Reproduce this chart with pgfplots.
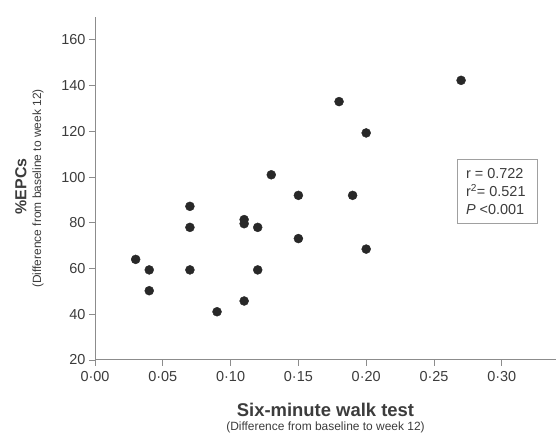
\documentclass[border=0pt]{standalone}
\usepackage{fontspec}
\setmainfont{Liberation Sans}
\usepackage{pgfplots}
\pgfplotsset{compat=1.18}
\definecolor{dotgray}{RGB}{40,40,40}
\definecolor{axgray}{RGB}{140,140,140}
\definecolor{txtgray}{RGB}{60,60,60}
\definecolor{boxgray}{RGB}{160,160,160}

\begin{document}
\begin{tikzpicture}[x=1bp,y=1bp]
\useasboundingbox (-95,-75) rectangle (461,360);
\begin{axis}[
    at={(0,0)}, anchor=south west,
    scale only axis,
    width=461bp, height=343bp,
    xmin=0, xmax=0.34,
    ymin=20, ymax=170,
    axis x line*=bottom,
    axis y line*=left,
    axis line style={color=axgray, line width=1pt, -},
    xtick={0,0.05,0.10,0.15,0.20,0.25,0.30},
    xticklabels={0·00,0·05,0·10,0·15,0·20,0·25,0·30},
    ytick={20,40,...,160},
    /pgf/number format/assume math mode=true,
    yticklabel={\pgfmathprintnumber{\tick}},
    tick align=outside,
    major tick length=6bp,
    tick style={color=axgray, line width=0.8pt},
    tick label style={font=\fontsize{14.5}{16}\selectfont, color=txtgray},
    xticklabel style={yshift=-2bp},
    clip=false,
]
\addplot[only marks, mark=*, mark size=4.5bp, color=dotgray] coordinates {
    (0.03, 64)
    (0.04, 59.4)
    (0.04, 50.3)
    (0.07, 87.2)
    (0.07, 78)
    (0.07, 59.4)
    (0.09, 41.1)
    (0.11, 81.4)
    (0.11, 79.6)
    (0.11, 45.8)
    (0.12, 78)
    (0.12, 59.4)
    (0.13, 101)
    (0.15, 92)
    (0.15, 73.1)
    (0.18, 133)
    (0.19, 92)
    (0.20, 119.3)
    (0.20, 68.5)
    (0.27, 142.3)
};
% statistics box
\draw[boxgray, line width=1pt, fill=white]
  (axis cs:0.267,107.8) rectangle (axis cs:0.326,79.8);
\node[align=left, anchor=west, inner sep=0pt, text=txtgray,
      font=\fontsize{14.5}{18}\selectfont]
  at (axis cs:0.2735,93.8)
  {r = 0.722\\r\textsuperscript{2}= 0.521\\\textit{P} <0.001};
\node[font=\bfseries\fontsize{18.5}{20}\selectfont, text=txtgray]
  at ([yshift=-50bp]rel axis cs:0.5,0) {Six-minute walk test};
\node[font=\fontsize{12}{14}\selectfont, text=txtgray]
  at ([yshift=-67bp]rel axis cs:0.5,0) {(Difference from baseline to week 12)};
\node[font=\bfseries\fontsize{16}{18}\selectfont, text=txtgray, rotate=90]
  at ([xshift=-74bp,yshift=2bp]rel axis cs:0,0.5) {\%EPCs};
\node[font=\fontsize{12}{14}\selectfont, text=txtgray, rotate=90]
  at ([xshift=-57bp]rel axis cs:0,0.5) {(Difference from baseline to week 12)};
\end{axis}
\end{tikzpicture}
\end{document}
